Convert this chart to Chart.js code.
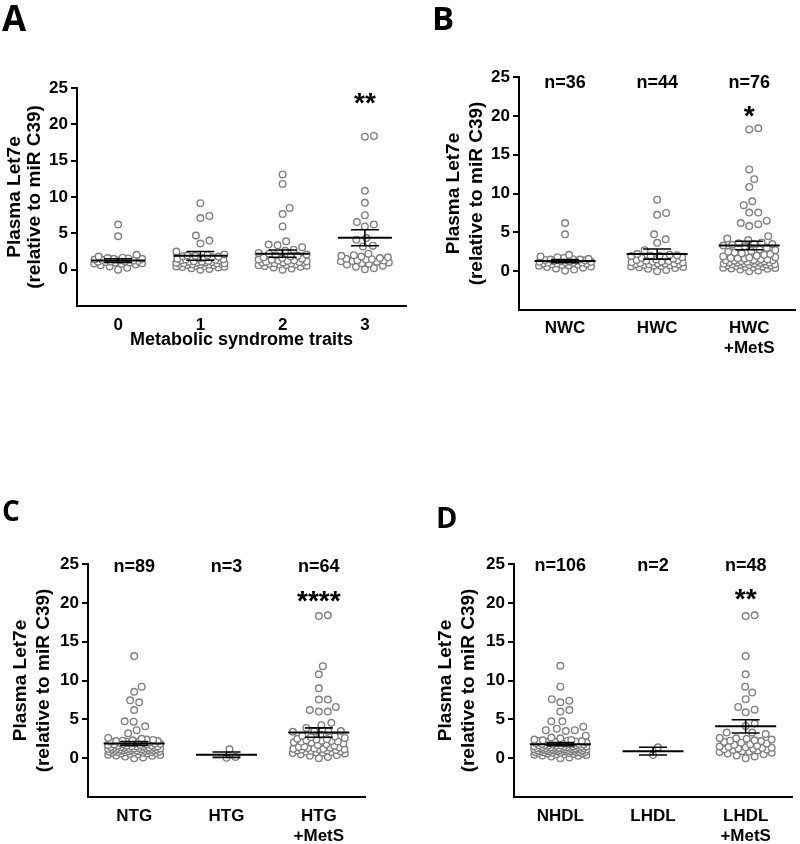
<!DOCTYPE html>
<html>
<head>
<meta charset="utf-8">
<script src="https://cdn.jsdelivr.net/npm/chart.js@4.4.1/dist/chart.umd.min.js"></script>
<style>
  html, body { margin: 0; padding: 0; background: #fff; }
  #wrap { position: relative; width: 800px; height: 844px; overflow: hidden; background: #fff; }
  canvas { position: absolute; }
  .letter { position: absolute; font-family: 'Open Sans', 'Liberation Sans', sans-serif; font-weight: 700; line-height: 1; color: #000; }
</style>
</head>
<body>
<div id="wrap">
  <canvas id="cA" width="420" height="400" style="left:0px;top:0px;width:420px;height:400px"></canvas>
  <canvas id="cB" width="400" height="400" style="left:400px;top:0px;width:400px;height:400px"></canvas>
  <canvas id="cC" width="400" height="424" style="left:0px;top:420px;width:400px;height:424px"></canvas>
  <canvas id="cD" width="400" height="424" style="left:400px;top:420px;width:400px;height:424px"></canvas>
  <div class="letter" style="left:2px;top:0px;font-size:35px">A</div>
  <div class="letter" style="left:432px;top:1px;font-size:33px">B</div>
  <div class="letter" style="left:2px;top:496px;font-size:28px">C</div>
  <div class="letter" style="left:436px;top:502px;font-size:29px">D</div>
</div>
<script>
// ---------- shared ----------
const yTicks = [0, 5, 10, 15, 20, 25];
const yTitle = ['Plasma Let7e', '(relative to miR C39)'];

// ---------- Panel A: Metabolic syndrome traits ----------
const aCategories = ['0', '1', '2', '3'];
const aTitle = 'Metabolic syndrome traits';
const aTraits0 = [6.2, 4.6,
  0.0, 0.25, 0.45, 0.6, 0.7, 0.8, 0.85, 0.9, 0.95, 1.0, 1.05, 1.1, 1.1, 1.15, 1.2, 1.25, 1.3, 1.35,
  1.4, 1.5, 1.5, 1.55, 1.6, 1.65, 1.8, 2.05];
const aTraits1 = [9.15, 7.4, 7.1, 4.7, 4.0, 3.6, 2.5,
  0.0, 0.1, 0.2, 0.3, 0.35, 0.4, 0.45, 0.5, 0.55, 0.6, 0.65, 0.7, 0.7, 0.75, 0.8, 0.8, 0.85, 0.9,
  0.9, 0.95, 1.0, 1.0, 1.05, 1.1, 1.1, 1.15, 1.2, 1.25, 1.3, 1.35, 1.4, 1.45, 1.5, 1.55, 1.6, 1.7,
  1.75, 1.8, 1.85, 1.9, 1.95, 2.0, 2.1];
const aTraits2 = [13.1, 11.8, 8.5, 7.65, 5.95, 3.9, 3.45, 3.35, 3.1, 2.75, 2.6,
  0.0, 0.15, 0.3, 0.4, 0.5, 0.55, 0.6, 0.65, 0.7, 0.75, 0.8, 0.85, 0.9, 0.95, 1.0, 1.0, 1.05, 1.1,
  1.15, 1.2, 1.25, 1.3, 1.35, 1.4, 1.5, 1.6, 1.7, 1.8, 1.9, 2.0, 2.1, 2.2, 2.3];
const aTraits3 = [18.4, 18.3, 10.85, 9.2, 7.5, 6.55, 6.2, 5.95, 4.35, 4.1, 3.3, 3.2,
  0.05, 0.2, 0.4, 0.55, 0.7, 0.8, 0.9, 1.0, 1.1, 1.15, 1.2, 1.25, 1.3, 1.4, 1.45, 1.5, 1.6, 1.7,
  1.8, 1.9, 2.0, 2.2];
const aMeans = [1.25, 1.9, 2.2, 4.4];
const aSems = [0.25, 0.6, 0.5, 1.1];
const aCounts = ['', '', '', ''];
const aStars = ['', '', '', '**'];

// ---------- Panel B: waist circumference ----------
const bCategories = ['NWC', 'HWC', ['HWC', '+MetS']];
const bNWC = [6.2, 4.75,
  0.05, 0.2, 0.35, 0.45, 0.55, 0.6, 0.7, 0.75, 0.8, 0.85, 0.9, 0.95, 1.0, 1.0, 1.05, 1.1, 1.1, 1.15,
  1.2, 1.2, 1.25, 1.3, 1.3, 1.35, 1.4, 1.45, 1.5, 1.5, 1.55, 1.6, 1.7, 1.8, 1.9, 2.1];
const bHWC = [9.2, 7.5, 7.25, 4.75, 4.1, 3.65, 2.7,
  0.0, 0.15, 0.3, 0.4, 0.5, 0.55, 0.6, 0.65, 0.7, 0.75, 0.8, 0.85, 0.9, 0.9, 0.95, 1.0, 1.0, 1.05,
  1.1, 1.15, 1.2, 1.25, 1.3, 1.35, 1.4, 1.45, 1.5, 1.6, 1.7, 1.8, 1.9, 1.95, 2.0, 2.0, 2.05, 2.1, 2.2];
const bHWCMetS = [18.4, 18.25, 13.1, 11.85, 10.85, 9.0, 8.5, 7.55, 7.55, 6.5, 6.2, 6.05, 5.8, 4.5,
  4.2, 4.0, 3.7, 3.6, 3.5, 3.5, 3.4, 3.3, 3.2, 3.0,
  0.0, 0.1, 0.2, 0.3, 0.35, 0.4, 0.45, 0.5, 0.55, 0.6, 0.65, 0.7, 0.7, 0.75, 0.8, 0.8, 0.85, 0.9,
  0.9, 0.95, 1.0, 1.0, 1.05, 1.1, 1.1, 1.15, 1.2, 1.2, 1.25, 1.3, 1.3, 1.35, 1.4, 1.4, 1.45, 1.5,
  1.55, 1.6, 1.65, 1.7, 1.75, 1.8, 1.9, 2.0, 2.1, 2.2, 2.3, 2.4, 2.5, 2.6, 2.7, 2.8];
const bMeans = [1.3, 2.2, 3.3];
const bSems = [0.2, 0.65, 0.55];
const bCounts = ['n=36', 'n=44', 'n=76'];
const bStars = ['', '', '*'];

// ---------- Panel C: triglycerides ----------
const cCategories = ['NTG', 'HTG', ['HTG', '+MetS']];
const cNTG = [13.15, 9.2, 8.55, 7.45, 7.2, 6.2, 4.75, 4.7, 4.1, 3.6, 3.2, 2.6, 2.5,
  0.0, 0.1, 0.2, 0.3, 0.35, 0.4, 0.45, 0.5, 0.55, 0.6, 0.6, 0.65, 0.7, 0.7, 0.75, 0.75, 0.8, 0.8,
  0.85, 0.85, 0.9, 0.9, 0.95, 0.95, 1.0, 1.0, 1.0, 1.05, 1.05, 1.1, 1.1, 1.1, 1.15, 1.15, 1.2, 1.2,
  1.2, 1.25, 1.25, 1.3, 1.3, 1.3, 1.35, 1.35, 1.4, 1.4, 1.45, 1.45, 1.5, 1.5, 1.55, 1.55, 1.6, 1.6,
  1.65, 1.7, 1.7, 1.75, 1.8, 1.8, 1.85, 1.9, 1.9, 1.95, 2.0, 2.0, 2.05, 2.1, 2.1, 2.15, 2.2, 2.2,
  2.25, 2.3, 2.35, 2.4];
const cHTG = [1.15, 0.15, 0.05];
const cHTGMetS = [18.4, 18.3, 11.85, 10.8, 9.0, 7.55, 7.55, 6.6, 6.2, 6.0, 6.0, 4.55, 4.25, 3.9,
  3.5, 3.5, 3.45, 3.4, 3.0, 2.9, 2.8, 2.7, 2.6, 2.5,
  0.0, 0.15, 0.3, 0.4, 0.5, 0.6, 0.65, 0.7, 0.75, 0.8, 0.85, 0.9, 0.95, 1.0, 1.0, 1.05, 1.1, 1.1,
  1.15, 1.2, 1.2, 1.25, 1.3, 1.35, 1.4, 1.45, 1.5, 1.6, 1.7, 1.8, 1.9, 2.0, 2.05, 2.1, 2.15, 2.2,
  2.25, 2.3, 2.4, 2.45];
const cMeans = [1.9, 0.45, 3.3];
const cSems = [0.25, 0.35, 0.6];
const cCounts = ['n=89', 'n=3', 'n=64'];
const cStars = ['', '', '****'];

// ---------- Panel D: HDL ----------
const dCategories = ['NHDL', 'LHDL', ['LHDL', '+MetS']];
const dNHDL = [11.9, 9.2, 7.6, 7.4, 7.2, 6.2, 6.0, 4.75, 4.75, 4.05, 3.8, 3.6, 3.6, 3.5, 2.9, 2.65, 2.55,
  0.0, 0.1, 0.2, 0.3, 0.35, 0.4, 0.45, 0.5, 0.5, 0.55, 0.6, 0.6, 0.65, 0.65, 0.7, 0.7, 0.75, 0.75,
  0.8, 0.8, 0.8, 0.85, 0.85, 0.9, 0.9, 0.9, 0.95, 0.95, 1.0, 1.0, 1.0, 1.0, 1.05, 1.05, 1.1, 1.1,
  1.1, 1.1, 1.15, 1.15, 1.15, 1.2, 1.2, 1.2, 1.25, 1.25, 1.25, 1.3, 1.3, 1.3, 1.35, 1.35, 1.35, 1.4,
  1.4, 1.45, 1.45, 1.5, 1.5, 1.5, 1.55, 1.55, 1.6, 1.6, 1.65, 1.65, 1.7, 1.7, 1.75, 1.8, 1.8, 1.85,
  1.85, 1.9, 1.9, 1.95, 2.0, 2.0, 2.0, 2.05, 2.1, 2.1, 2.15, 2.2, 2.2, 2.25, 2.3, 2.35, 2.4];
const dLHDL = [1.4, 0.4];
const dLHDLMetS = [18.4, 18.3, 13.15, 10.8, 9.2, 8.45, 7.6, 6.6, 6.25, 5.9, 4.45, 4.15, 3.3, 3.3, 3.1,
  0.0, 0.2, 0.35, 0.5, 0.6, 0.7, 0.8, 0.85, 0.9, 1.0, 1.05, 1.1, 1.15, 1.2, 1.25, 1.3, 1.35, 1.4,
  1.45, 1.5, 1.6, 1.7, 1.8, 1.9, 2.0, 2.1, 2.2, 2.25, 2.3, 2.4, 2.5, 2.55, 2.6];
const dMeans = [1.8, 0.9, 4.1];
const dSems = [0.2, 0.5, 0.85];
const dCounts = ['n=106', 'n=2', 'n=48'];
const dStars = ['', '', '**'];

// ---------- drawing ----------
const FONT = "'Liberation Sans', Arial, Helvetica, sans-serif";
const POINT_COLOR = '#808080';

// beeswarm layout in pixel space; dense clusters are allowed to overlap within maxHalf
function swarm(chart, groups, maxHalf) {
  const xs = chart.scales.x, ys = chart.scales.y;
  const D = 9, STEP = 0.5;
  groups.forEach((vals, gi) => {
    const cx = xs.getPixelForValue(gi);
    const items = vals.map(v => ({ v, py: ys.getPixelForValue(v) })).sort((a, b) => a.v - b.v);
    const placed = [];
    const pts = [];
    items.forEach(it => {
      const near = placed.filter(p => Math.abs(p.py - it.py) < D);
      let best = 0, bestScore = -1;
      const kmax = Math.floor(2 * maxHalf / STEP);
      for (let k = 0; k <= kmax; k++) {
        const m = Math.ceil(k / 2) * STEP;
        const off = k === 0 ? 0 : (k % 2 ? m : -m);
        let md = Infinity;
        for (const p of near) {
          const d = Math.hypot(p.dx - off, p.py - it.py);
          if (d < md) md = d;
        }
        if (md >= D) { best = off; break; }
        if (md > bestScore + 1e-6) { bestScore = md; best = off; }
      }
      placed.push({ dx: best, py: it.py });
      pts.push({ x: xs.getValueForPixel(cx + best), y: it.v });
    });
    chart.data.datasets[gi].data = pts;
  });
}

function makePanel(cfg) {
  const marks = {
    id: 'marks' + cfg.id,
    afterDatasetsDraw(chart) {
      const ctx = chart.ctx, xs = chart.scales.x, ys = chart.scales.y;
      ctx.save();
      ctx.strokeStyle = '#000';
      cfg.means.forEach((m, i) => {
        const cx = xs.getPixelForValue(i);
        const ym = ys.getPixelForValue(m);
        const yt = ys.getPixelForValue(m + cfg.sems[i]);
        const yb = ys.getPixelForValue(m - cfg.sems[i]);
        ctx.lineWidth = 2;
        ctx.beginPath(); ctx.moveTo(cx - cfg.meanHalf, ym); ctx.lineTo(cx + cfg.meanHalf, ym); ctx.stroke();
        ctx.lineWidth = 1.6;
        ctx.beginPath();
        ctx.moveTo(cx, yt); ctx.lineTo(cx, yb);
        ctx.moveTo(cx - 14, yt); ctx.lineTo(cx + 14, yt);
        ctx.moveTo(cx - 14, yb); ctx.lineTo(cx + 14, yb);
        ctx.stroke();
      });
      ctx.fillStyle = '#000';
      ctx.textAlign = 'center';
      ctx.font = 'bold 18px ' + FONT;
      ctx.textBaseline = 'middle';
      cfg.counts.forEach((t, i) => {
        if (!t) return;
        ctx.fillText(t, xs.getPixelForValue(i), ys.getPixelForValue(cfg.countY));
      });
      ctx.font = 'bold 28px ' + FONT;
      ctx.textBaseline = 'alphabetic';
      cfg.stars.forEach((t, i) => {
        if (!t) return;
        ctx.fillText(t, xs.getPixelForValue(i), ys.getPixelForValue(cfg.starY) + 15);
      });
      ctx.restore();
    }
  };
  const datasets = cfg.groups.map(vals => ({
    data: vals.map(v => ({ x: 0, y: v })),
    pointRadius: 3.3,
    pointHoverRadius: 3.3,
    pointBorderWidth: 1.4,
    pointBorderColor: POINT_COLOR,
    pointBackgroundColor: '#fff',
    showLine: false
  }));
  const n = cfg.cats.length;
  const chart = new Chart(document.getElementById(cfg.id), {
    type: 'scatter',
    data: { datasets },
    options: {
      responsive: false,
      animation: false,
      events: [],
      layout: { padding: cfg.pad },
      plugins: { legend: { display: false }, tooltip: { enabled: false } },
      scales: {
        x: {
          type: 'linear', min: -0.5, max: n - 0.5,
          afterBuildTicks: s => { s.ticks = cfg.cats.map((c, i) => ({ value: i })); },
          afterFit: s => { s.height = cfg.xh; },
          grid: { display: false, drawTicks: false },
          border: { display: true, color: '#000', width: 2 },
          ticks: {
            autoSkip: false, maxRotation: 0, minRotation: 0, padding: cfg.xPad, color: '#000',
            font: { family: FONT, size: 17, weight: 'bold', lineHeight: '19.5px' },
            callback: v => cfg.cats[Math.round(v)]
          },
          title: cfg.xTitle ? {
            display: true, text: cfg.xTitle, color: '#000', padding: { top: 0, bottom: 0 },
            font: { family: FONT, size: 18, weight: 'bold', lineHeight: '21.6px' }
          } : { display: false }
        },
        y: {
          type: 'linear', min: -5, max: 25,
          afterBuildTicks: s => { s.ticks = yTicks.map(v => ({ value: v })); },
          afterFit: s => { s.width = cfg.yw; },
          grid: { drawOnChartArea: false, drawTicks: true, tickLength: 6, color: '#000', lineWidth: 2 },
          border: { display: true, color: '#000', width: 2 },
          ticks: {
            padding: 3, color: '#000',
            font: { family: FONT, size: 17, weight: 'bold' },
            callback: v => String(v)
          },
          title: {
            display: true, text: yTitle, color: '#000',
            padding: { top: cfg.titlePad, bottom: 0 },
            font: { family: FONT, size: 19, weight: 'bold', lineHeight: cfg.titleLH }
          }
        }
      }
    },
    plugins: [marks]
  });
  swarm(chart, cfg.groups, cfg.maxHalf);
  chart.update('none');
  return chart;
}

makePanel({
  id: 'cA', cats: aCategories, groups: [aTraits0, aTraits1, aTraits2, aTraits3],
  means: aMeans, sems: aSems, counts: aCounts, stars: aStars, countY: 24.4, starY: 23.76,
  xTitle: aTitle, pad: { left: 0, top: 88, right: 14, bottom: 49 }, yw: 77, xh: 45, xPad: 10,
  titlePad: 4.5, titleLH: '20px', maxHalf: 24, meanHalf: 27
});
makePanel({
  id: 'cB', cats: bCategories, groups: [bNWC, bHWC, bHWCMetS],
  means: bMeans, sems: bSems, counts: bCounts, stars: bStars, countY: 24.2, starY: 20.75,
  xTitle: null, pad: { left: 41, top: 77, right: 4, bottom: 30 }, yw: 78, xh: 60, xPad: 9,
  titlePad: 0.8, titleLH: '23px', maxHalf: 26, meanHalf: 30.5
});
makePanel({
  id: 'cC', cats: cCategories, groups: [cNTG, cHTG, cHTGMetS],
  means: cMeans, sems: cSems, counts: cCounts, stars: cStars, countY: 24.6, starY: 21.0,
  xTitle: null, pad: { left: 0, top: 144, right: 35, bottom: 0 }, yw: 88, xh: 47, xPad: 10,
  titlePad: 9.3, titleLH: '23px', maxHalf: 26, meanHalf: 30.5
});
makePanel({
  id: 'cD', cats: dCategories, groups: [dNHDL, dLHDL, dLHDLMetS],
  means: dMeans, sems: dSems, counts: dCounts, stars: dStars, countY: 24.8, starY: 21.3,
  xTitle: null, pad: { left: 30, top: 144, right: 8, bottom: 0 }, yw: 84, xh: 47, xPad: 10,
  titlePad: 4.3, titleLH: '23px', maxHalf: 26, meanHalf: 30.5
});
</script>
</body>
</html>
